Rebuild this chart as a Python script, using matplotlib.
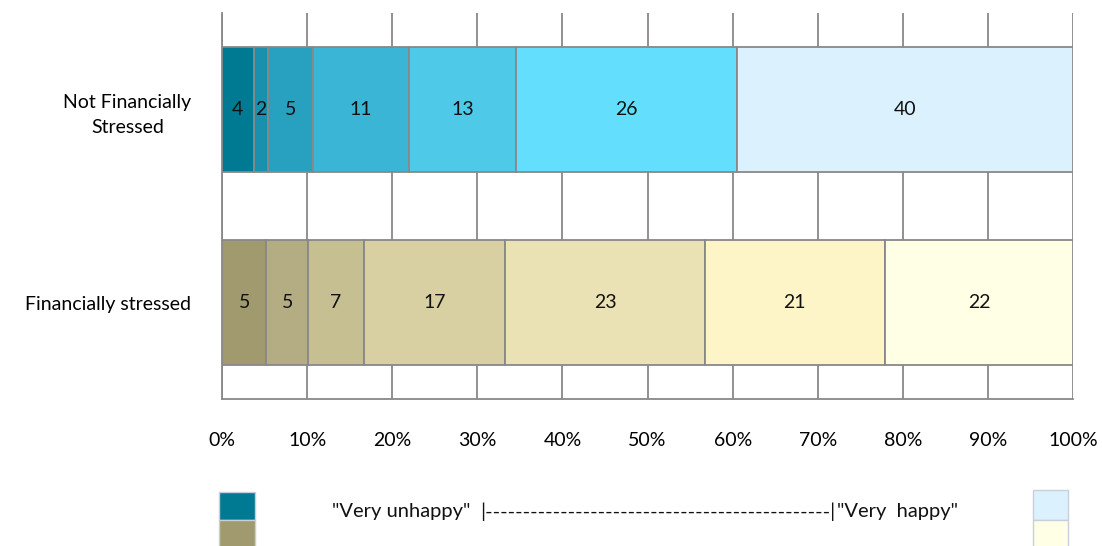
import numpy as np
import matplotlib.pyplot as plt
from matplotlib.patches import Rectangle

plt.rcParams['font.family'] = ['Lato', 'DejaVu Sans']

# shares (%), top bar first; labels show them rounded
categories = ['Not Financially\nStressed', 'Financially stressed']
not_stressed = [3.7, 1.7, 5.3, 11.3, 12.6, 25.9, 39.5]
stressed = [5.2, 4.9, 6.6, 16.6, 23.4, 21.2, 22.1]
ticks = [0, 10, 20, 30, 40, 50, 60, 70, 80, 90, 100]

blue_colors = ['#007A93', '#1A90AF', '#28A1C1', '#3AB5D6', '#4FC9E8', '#63DFFD', '#DBF1FE']
olive_colors = ['#A09A6E', '#B4AD84', '#C6BF92', '#D8D0A2', '#EAE2B5', '#FDF4C7', '#FFFFE6']

fig = plt.figure(figsize=(11.02, 5.46), dpi=100)
ax = fig.add_axes([0.2015, 0.2692, 0.7722, 0.707])

grid_col = '#888888'
for row, (vals, cols) in enumerate([(not_stressed, blue_colors), (stressed, olive_colors)]):
    vals = np.array(vals, dtype=float)
    pct = vals / vals.sum() * 100
    lefts = np.concatenate([[0], np.cumsum(pct)[:-1]])
    ax.barh(row, pct, left=lefts, height=0.644, color=cols,
            edgecolor=grid_col, linewidth=1.3, zorder=3)
    for l, w, v in zip(lefts, pct, vals):
        ax.text(l + w / 2, row, f'{round(v):.0f}', ha='center', va='center',
                fontsize=14, color='#111111', zorder=4)

ax.set_xlim(0, 100)
ax.set_ylim(1.5, -0.5)
ax.set_xticks(ticks)
ax.set_xticklabels([f'{t}%' for t in ticks], fontsize=14)
ax.set_yticks([0, 1])
ax.set_yticklabels(categories, fontsize=14, multialignment='center', linespacing=1.6)
ax.tick_params(axis='both', length=0)
ax.tick_params(axis='x', pad=24)
ax.tick_params(axis='y', pad=22)
ax.xaxis.grid(True, color=grid_col, linewidth=1.3, zorder=0)
ax.set_axisbelow(True)
for side in ['top', 'right']:
    ax.spines[side].set_visible(False)
for side in ['left', 'bottom']:
    ax.spines[side].set_color(grid_col)
    ax.spines[side].set_linewidth(1.3)

# bottom legend: colour swatches and scale text
W, H = 1102, 546
def swatch(x, y, w, h, col):
    fig.patches.append(Rectangle((x / W, 1 - (y + h) / H), w / W, h / H,
                                 transform=fig.transFigure, facecolor=col,
                                 edgecolor='#C8CEDB', linewidth=1.0))
swatch(219, 492, 36, 28, blue_colors[0])
swatch(219, 520, 36, 30, olive_colors[0])
swatch(1033, 490, 35, 30, blue_colors[-1])
swatch(1033, 520, 35, 30, olive_colors[-1])

ty = 1 - 512 / H
fig.text(470 / W, ty, '"Very unhappy"', ha='right', va='center', fontsize=14.5, color='#111111')
fig.text(480 / W, ty, '|' + '-' * 46 + '|', ha='left', va='center', fontsize=14.5, color='#111111')
fig.text(837 / W, ty, '"Very  happy"', ha='left', va='center', fontsize=14.5, color='#111111')

fig.savefig('out.png', dpi=100)
